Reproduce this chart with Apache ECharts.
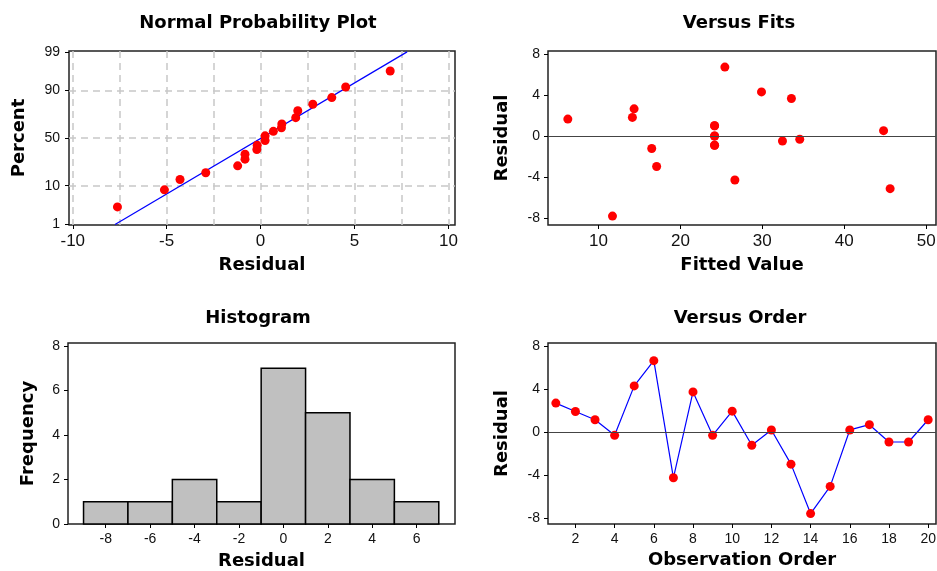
<!DOCTYPE html>
<html>
<head>
<meta charset="utf-8">
<script src="https://cdn.jsdelivr.net/npm/echarts@6/dist/echarts.min.js"></script>
<style>
html,body{margin:0;padding:0;background:#fff}
#chart{width:937px;height:571px}
</style>
</head>
<body>
<div id="chart"></div>
<script>
// Normal probability plot (sorted residuals and their plotted percent)
var nppResidual = [-7.62,-5.12,-4.29,-2.92,-1.22,-0.83,-0.83,-0.2,-0.18,0.24,0.24,0.68,1.11,1.13,1.87,1.98,2.78,3.79,4.53,6.9];
var nppPercent  = [3.2,8.2,13.3,17.6,22.8,28.6,33.3,38,42.5,47.5,52.5,57.3,61,65,71,77,82,86.3,91.6,96.5];
var fitLineResidual = [-7.75, 7.8];
var fitLinePercent  = [1, 99];
var nppXTicks = [-10,-5,0,5,10];
var nppXGrid  = [-10,-7.5,-5,-2.5,0,2.5,5,7.5,10];
var pctTicks  = [1,10,50,90,99];
var pctGrid   = [10,50,90];

// Versus fits
var fitted       = [6.26,11.71,14.14,14.35,16.5,17.1,24.17,24.17,24.17,24.17,24.17,24.17,25.43,26.65,29.9,32.46,33.55,34.57,44.8,45.6];
var fitsResidual = [1.65,-7.83,1.81,2.65,-1.23,-2.98,1.0,1.0,0.0,0.0,-0.91,-0.91,6.73,-4.3,4.3,-0.49,3.66,-0.32,0.52,-5.15];
var fitsXTicks = [10,20,30,40,50];
var residTicks = [-8,-4,0,4,8];

// Histogram
var binCenters = [-8,-6,-4,-2,0,2,4,6];
var binCounts  = [1,1,2,1,7,5,2,1];
var binWidth = 2;
var histYTicks = [0,2,4,6,8];

// Versus order
var observation   = [1,2,3,4,5,6,7,8,9,10,11,12,13,14,15,16,17,18,19,20];
var orderResidual = [2.69,1.91,1.14,-0.31,4.29,6.64,-4.26,3.73,-0.31,1.94,-1.23,0.19,-2.99,-7.59,-5.06,0.19,0.68,-0.93,-0.93,1.14];
var orderXTicks = [2,4,6,8,10,12,14,16,18,20];

// inverse normal cdf (Acklam) for the percent scale
function probit(p) {
  var a = [-3.969683028665376e+01, 2.209460984245205e+02, -2.759285104469687e+02, 1.383577518672690e+02, -3.066479806614716e+01, 2.506628277459239e+00];
  var b = [-5.447609879822406e+01, 1.615858368580409e+02, -1.556989798598866e+02, 6.680131188771972e+01, -1.328068155288572e+01];
  var c = [-7.784894002430293e-03, -3.223964580411365e-01, -2.400758277161838e+00, -2.549732539343734e+00, 4.374664141464968e+00, 2.938163982698783e+00];
  var d = [7.784695709041462e-03, 3.224671290700398e-01, 2.445134137142996e+00, 3.754408661907416e+00];
  var plow = 0.02425, q, r;
  if (p < plow) {
    q = Math.sqrt(-2 * Math.log(p));
    return (((((c[0]*q+c[1])*q+c[2])*q+c[3])*q+c[4])*q+c[5]) / ((((d[0]*q+d[1])*q+d[2])*q+d[3])*q+1);
  }
  if (p > 1 - plow) {
    q = Math.sqrt(-2 * Math.log(1 - p));
    return -(((((c[0]*q+c[1])*q+c[2])*q+c[3])*q+c[4])*q+c[5]) / ((((d[0]*q+d[1])*q+d[2])*q+d[3])*q+1);
  }
  q = p - 0.5; r = q * q;
  return (((((a[0]*r+a[1])*r+a[2])*r+a[3])*r+a[4])*r+a[5])*q / (((((b[0]*r+b[1])*r+b[2])*r+b[3])*r+b[4])*r+1);
}

var tickFont = 'Liberation Sans';
var boldFont = 'DejaVu Sans';
var tickStyle = { show: true, length: 4, inside: false, lineStyle: { color: '#000', width: 1 } };
var nameStyle = { fontFamily: boldFont, fontWeight: 'bold', fontSize: 18, color: '#000' };
var gridBorder = { show: true, borderColor: '#222', borderWidth: 1.5, backgroundColor: '#fff', outerBoundsMode: 'none', containLabel: false };

function axis(gridIndex, min, max, ticks, fontSize, name, nameGap, extra) {
  var a = {
    type: 'value', gridIndex: gridIndex, min: min, max: max,
    axisLine: { show: false, onZero: false },
    axisTick: Object.assign({ customValues: ticks }, tickStyle),
    axisLabel: { customValues: ticks, fontFamily: tickFont, fontSize: fontSize, color: '#111', margin: 8 },
    splitLine: { show: false },
    name: name, nameLocation: 'middle', nameGap: nameGap, nameTextStyle: nameStyle
  };
  return Object.assign(a, extra || {});
}

// hidden axis that only draws dashed grid lines
function gridAxis(gridIndex, min, max, values, position) {
  return axis(gridIndex, min, max, values, 12, '', 0, {
    position: position,
    axisTick: { show: false, customValues: values },
    axisLabel: { show: false, customValues: values },
    splitLine: { show: true, lineStyle: { color: '#c8c8c8', width: 1.5, type: [7, 5] } }
  });
}

var pctZ = pctTicks.map(function (t) { return probit(t / 100); });
var pctGridZ = pctGrid.map(function (t) { return probit(t / 100); });

var zeroLine = {
  silent: true, symbol: ['none', 'none'], label: { show: false },
  lineStyle: { color: '#444', width: 1, type: 'solid' },
  data: [{ yAxis: 0 }]
};

var option = {
  animation: false,
  backgroundColor: '#fff',
  grid: [
    Object.assign({ left: 69, top: 51, width: 386, height: 174 }, gridBorder),
    Object.assign({ left: 548, top: 51, width: 388, height: 174 }, gridBorder),
    Object.assign({ left: 68, top: 343, width: 387, height: 181 }, gridBorder),
    Object.assign({ left: 548, top: 343, width: 388, height: 181 }, gridBorder)
  ],
  graphic: [
    { type: 'text', x: 258, y: 23, style: { text: 'Normal Probability Plot', font: 'bold 18px "DejaVu Sans"', fill: '#000', textAlign: 'center', textVerticalAlign: 'middle' } },
    { type: 'text', x: 739, y: 23, style: { text: 'Versus Fits', font: 'bold 18px "DejaVu Sans"', fill: '#000', textAlign: 'center', textVerticalAlign: 'middle' } },
    { type: 'text', x: 258, y: 318, style: { text: 'Histogram', font: 'bold 18px "DejaVu Sans"', fill: '#000', textAlign: 'center', textVerticalAlign: 'middle' } },
    { type: 'text', x: 740, y: 318, style: { text: 'Versus Order', font: 'bold 18px "DejaVu Sans"', fill: '#000', textAlign: 'center', textVerticalAlign: 'middle' } }
  ],
  xAxis: [
    axis(0, -10.2, 10.35, nppXTicks, 17, 'Residual', 31),
    gridAxis(0, -10.2, 10.35, nppXGrid, 'top'),
    axis(1, 3.84, 51.2, fitsXTicks, 17, 'Fitted Value', 31),
    axis(2, -9.7, 7.73, binCenters, 14, 'Residual', 28),
    axis(3, 0.6, 20.4, orderXTicks, 14, 'Observation Order', 27)
  ],
  yAxis: [
    axis(0, -2.34, 2.35, pctZ, 14, 'Percent', 41, {
      axisLabel: {
        customValues: pctZ, fontFamily: tickFont, fontSize: 14, color: '#111', margin: 9,
        formatter: function (v) {
          for (var i = 0; i < pctZ.length; i++) if (Math.abs(pctZ[i] - v) < 1e-6) return String(pctTicks[i]);
          return '';
        }
      }
    }),
    gridAxis(0, -2.34, 2.35, pctGridZ, 'right'),
    axis(1, -8.7, 8.3, residTicks, 14, 'Residual', 37),
    axis(2, 0, 8.14, histYTicks, 14, 'Frequency', 31),
    axis(3, -8.56, 8.28, residTicks, 14, 'Residual', 37)
  ],
  series: [
    {
      type: 'line', xAxisIndex: 0, yAxisIndex: 0, symbol: 'none', silent: true,
      lineStyle: { color: '#0000ff', width: 1.2 },
      data: fitLineResidual.map(function (x, i) { return [x, probit(fitLinePercent[i] / 100)]; })
    },
    {
      type: 'scatter', xAxisIndex: 0, yAxisIndex: 0, symbolSize: 9, z: 3,
      itemStyle: { color: '#ff0000', opacity: 1 },
      data: nppResidual.map(function (x, i) { return [x, probit(nppPercent[i] / 100)]; })
    },
    {
      type: 'scatter', xAxisIndex: 2, yAxisIndex: 2, symbolSize: 9, z: 3,
      itemStyle: { color: '#ff0000', opacity: 1 },
      data: fitted.map(function (x, i) { return [x, fitsResidual[i]]; }),
      markLine: zeroLine
    },
    {
      type: 'custom', xAxisIndex: 3, yAxisIndex: 3,
      encode: { x: 0, y: 1 },
      data: binCenters.map(function (x, i) { return [x, binCounts[i]]; }),
      renderItem: function (params, api) {
        var p0 = api.coord([api.value(0) - binWidth / 2, api.value(1)]);
        var p1 = api.coord([api.value(0) + binWidth / 2, 0]);
        return {
          type: 'rect',
          shape: { x: p0[0], y: p0[1], width: p1[0] - p0[0], height: p1[1] - p0[1] },
          style: { fill: '#c0c0c0', stroke: '#000', lineWidth: 1.5 }
        };
      }
    },
    {
      type: 'line', xAxisIndex: 4, yAxisIndex: 4, symbol: 'circle', symbolSize: 9, z: 3,
      lineStyle: { color: '#0000ff', width: 1.2 },
      itemStyle: { color: '#ff0000', opacity: 1 },
      data: observation.map(function (x, i) { return [x, orderResidual[i]]; }),
      markLine: zeroLine
    }
  ]
};

var chart = echarts.init(document.getElementById('chart'));
chart.setOption(option);
window.addEventListener('resize', function () { chart.resize(); });
</script>
</body>
</html>
